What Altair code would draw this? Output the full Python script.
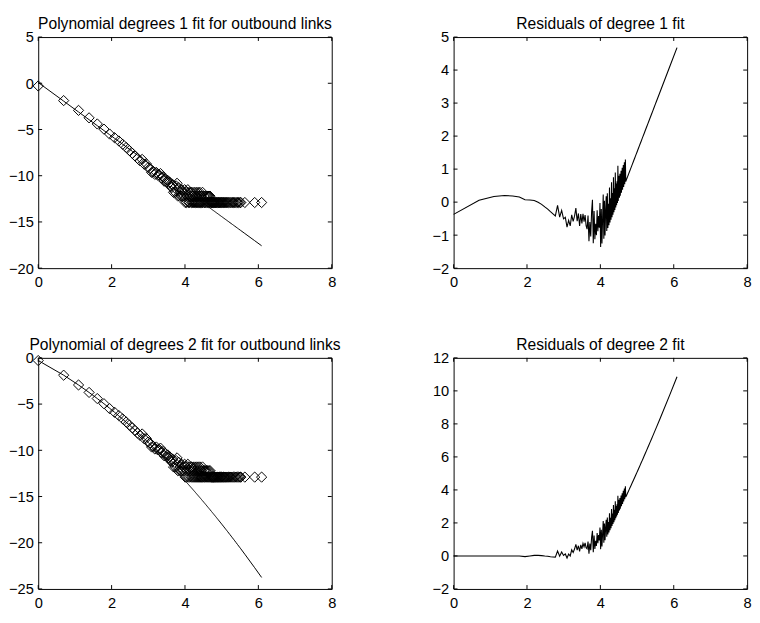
import altair as alt
import numpy as np
import pandas as pd

# ---------------- data ----------------
TOTAL_NODES = 400000  # count of 1 sits at ln(1/N) = -12.9

degrees = list(range(1, 90)) + [
    91, 92, 93, 94, 96, 97, 99, 100, 102, 103, 105, 106, 108, 109, 112,
    113, 115, 117, 118, 120, 122, 124, 126, 129, 131, 134, 136, 139, 142,
    145, 148, 151, 155, 158, 162, 166, 170, 175, 180, 186, 192, 199, 205,
    212, 220, 228, 236, 245, 250, 279, 365, 441,
]
counts = [
    299300, 61400, 21300, 9510, 4910, 2805, 1651, 1114, 780, 544,
    387, 278, 206, 154, 118, 92, 106, 63, 66, 44,
    40, 26, 28, 21, 26, 19, 20, 23, 14, 16,
    10, 13, 9, 11, 8, 9, 6, 5, 7, 3,
    5, 3, 6, 8, 2, 5, 2, 3, 2, 4,
    2, 3, 2, 4, 1, 3, 1, 2, 4, 1,
    3, 1, 2, 3, 1, 3, 1, 2, 1, 3,
    1, 2, 1, 3, 1, 2, 1, 3, 1, 2,
    1, 3, 1, 2, 1, 2, 1, 3, 1,
    2, 1, 2, 1, 2, 1, 2, 1, 2, 1, 2, 1, 2, 1, 1,
    1, 1, 1, 1, 1, 1, 1, 1, 1, 1, 1, 1, 1, 1,
    1, 1, 1, 1, 1, 1, 1, 1, 1, 1, 1, 1, 1, 1,
    1, 1, 1, 1, 1, 1, 1, 1, 1,
]

# fitted polynomial coefficients (highest power first)
POLY1 = [-2.90, 0.08]
POLY2 = [-0.29, -2.088, -0.288]

titles = [
    "Polynomial degrees 1 fit for outbound links",
    "Residuals of degree 1 fit",
    "Polynomial of degrees 2 fit for outbound links",
    "Residuals of degree 2 fit",
]
x_ticks = [0, 2, 4, 6, 8]
y_ticks_fit1 = [-20, -15, -10, -5, 0, 5]
y_ticks_res1 = [-2, -1, 0, 1, 2, 3, 4, 5]
y_ticks_fit2 = [-25, -20, -15, -10, -5, 0]
y_ticks_res2 = [-2, 0, 2, 4, 6, 8, 10, 12]

# ---------------- derived table ----------------
x = np.log(np.array(degrees, dtype=float))
y = np.log(np.array(counts, dtype=float) / TOTAL_NODES)
fit1 = np.polyval(POLY1, x)
fit2 = np.polyval(POLY2, x)
df = pd.DataFrame({
    "x": x, "y": y, "fit1": fit1, "fit2": fit2,
    "res1": y - fit1, "res2": y - fit2,
})

W, H = 301, 237
FONT = "Liberation Sans"
TICK = 4


def axis(values, orient):
    return alt.Axis(
        values=values, orient=orient, ticks=False, domain=False,
        grid=False, title=None, labelFont=FONT, labelFontSize=15,
        labelColor="black", labelPadding=5 if orient == "left" else 7,
        format="d", labelFlush=False, labelOverlap=False,
    )


def panel(title, yfield, ydomain, yticks, kind):
    xs = alt.Scale(domain=[0, 8], nice=False, zero=False)
    ys = alt.Scale(domain=ydomain, nice=False, zero=False)
    X = lambda: alt.X("x:Q", scale=xs, axis=axis(x_ticks, "bottom"))
    Y = lambda f: alt.Y(f"{f}:Q", scale=ys, axis=axis(yticks, "left"))
    base = alt.Chart(df)
    layers = []
    if kind == "fit":
        layers.append(base.mark_point(shape="diamond", filled=False, color="black",
                                      size=110, strokeWidth=1, opacity=1).encode(
            x=X(), y=Y("y")))
        layers.append(base.mark_line(color="black", strokeWidth=1).encode(
            x=X(), y=Y(yfield)))
        ycol = "y"
    else:
        layers.append(base.mark_line(color="black", strokeWidth=1.1).encode(
            x=X(), y=Y(yfield)))
        ycol = yfield
    # inward tick marks on all four sides of the box
    xt = alt.Chart(pd.DataFrame({"x": x_ticks}))
    yt = alt.Chart(pd.DataFrame({ycol: yticks}))
    layers.append(xt.mark_rule(color="black", strokeWidth=1).encode(
        x=X(), y=alt.value(0), y2=alt.value(TICK)))
    layers.append(xt.mark_rule(color="black", strokeWidth=1).encode(
        x=X(), y=alt.value(H - TICK), y2=alt.value(H)))
    layers.append(yt.mark_rule(color="black", strokeWidth=1).encode(
        y=Y(ycol), x=alt.value(0), x2=alt.value(TICK)))
    layers.append(yt.mark_rule(color="black", strokeWidth=1).encode(
        y=Y(ycol), x=alt.value(W - TICK), x2=alt.value(W)))
    # panel title as a text mark centred above the box
    layers.append(alt.Chart(pd.DataFrame({"t": [title]})).mark_text(
        font=FONT, fontSize=16, color="black", align="center",
        baseline="middle").encode(
        text="t:N", x=alt.value(W / 2), y=alt.value(-13)))
    return alt.layer(*layers).properties(width=W, height=H)


p1 = panel(titles[0], "fit1", [-20, 5], y_ticks_fit1, "fit")
p2 = panel(titles[1], "res1", [-2, 5], y_ticks_res1, "res")
p3 = panel(titles[2], "fit2", [-25, 0], y_ticks_fit2, "fit")
p4 = panel(titles[3], "res2", [-2, 12], y_ticks_res2, "res")

chart = alt.concat(p1, p2, p3, p4, columns=2,
                   spacing={"row": 47, "column": 92}).configure_view(
    stroke="black", strokeWidth=1
).properties(
    padding={"left": 0, "top": 0, "right": 0, "bottom": 0},
    background="white",
)

chart.save("out.html", embed_options={"renderer": "svg", "actions": False})
